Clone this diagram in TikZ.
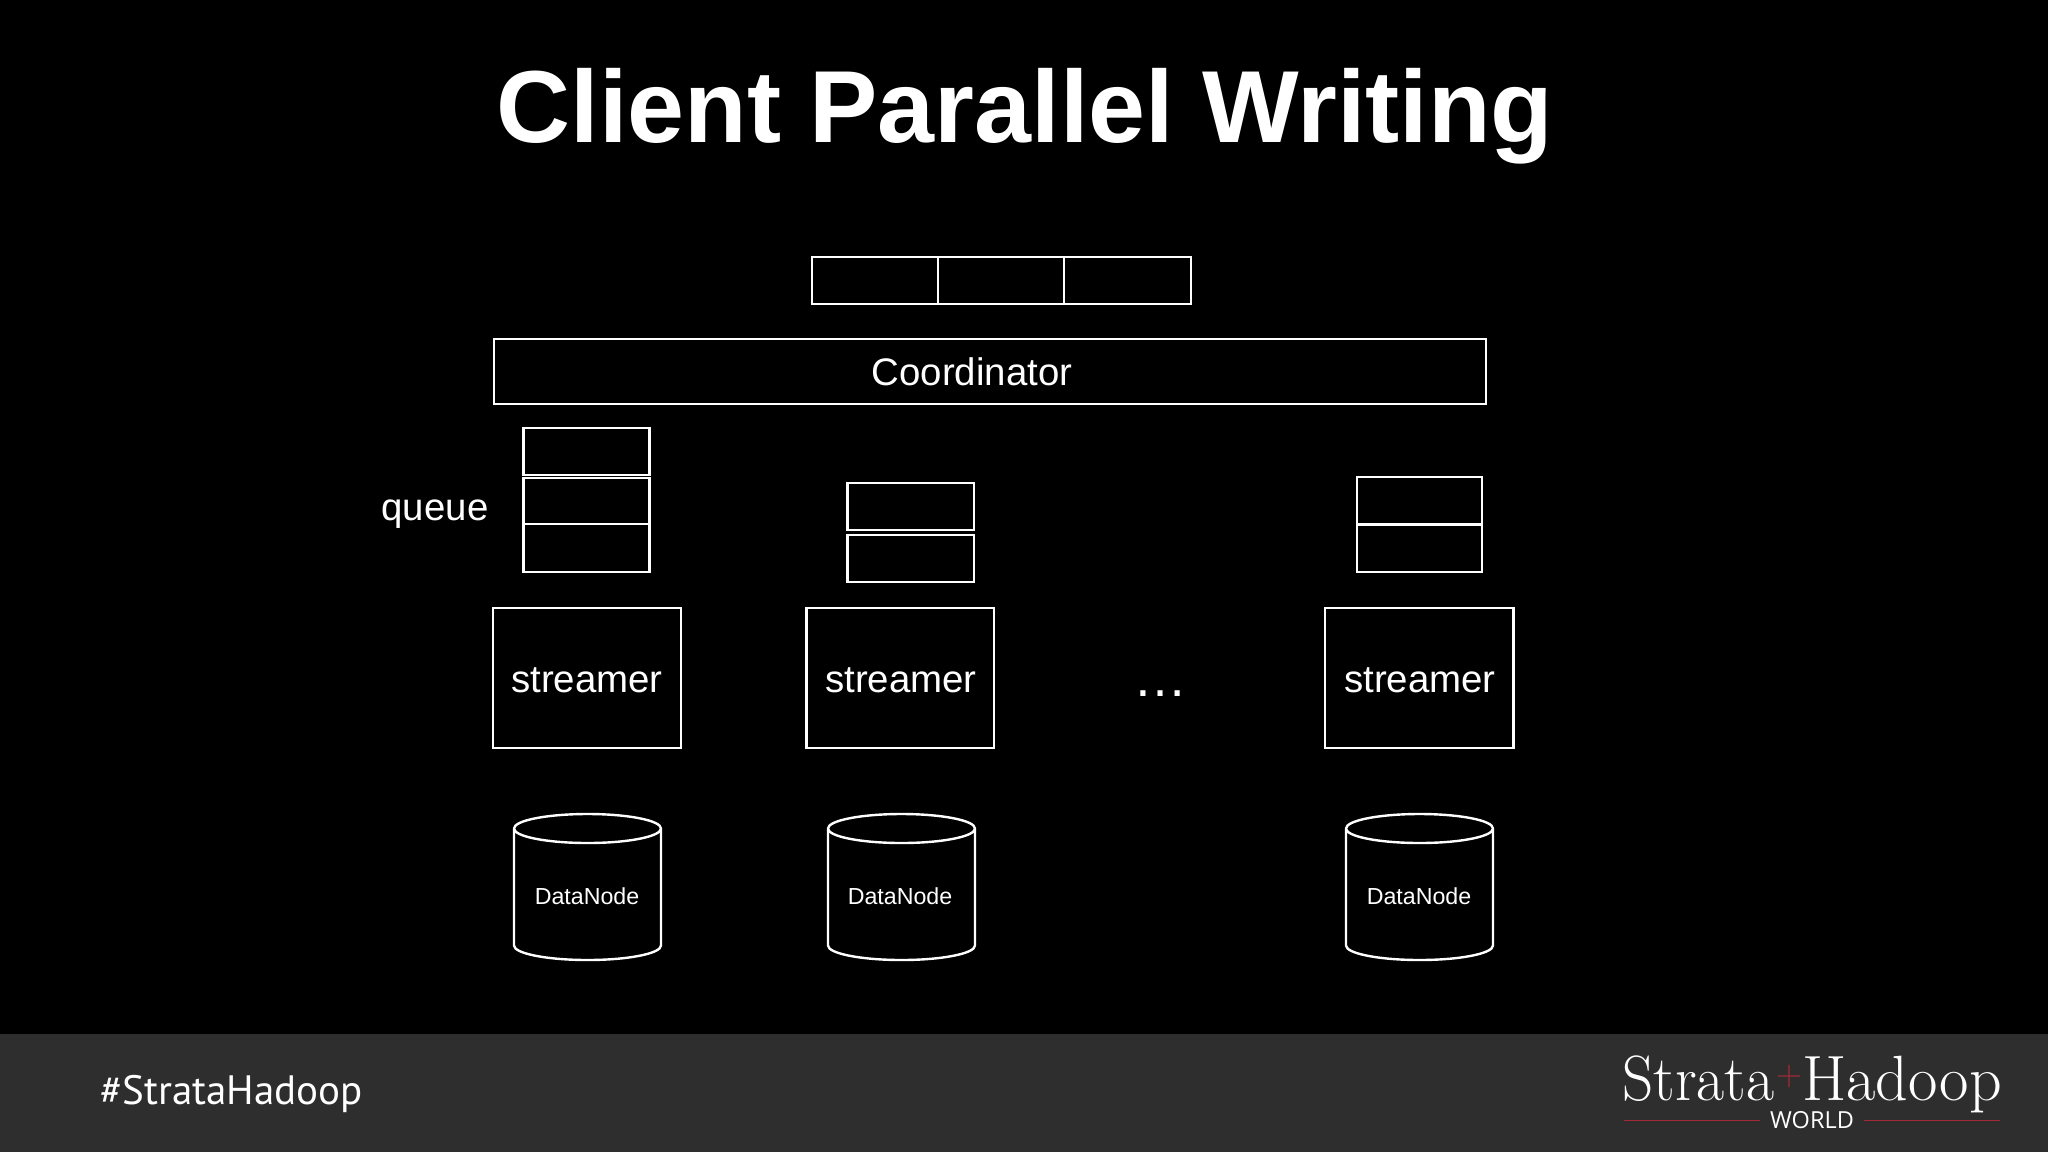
\documentclass[tikz,border=0pt]{standalone}
\usepackage{fontspec}
\setsansfont{Liberation Sans}
\newfontfamily\tagfont{PT Sans}
\newfontfamily\worldfont{Open Sans}
\usetikzlibrary{fit}
\definecolor{barcol}{HTML}{2E2E2E}
\definecolor{redcol}{HTML}{A32A35}
\newcommand{\fsz}[1]{\fontsize{#1pt}{#1pt}\selectfont}
\newcommand{\cylshape}[1]{%
  \draw[cyl] (#1.north west) ++(0,-14.5pt) arc[start angle=180,end angle=-180,x radius=73.5pt,y radius=14.5pt]
    -- ++(0,-117pt) arc[start angle=180,end angle=360,x radius=73.5pt,y radius=14.5pt]
    -- ++(0,117pt);
}
\tikzset{
  bx/.style={draw=white,line width=2.4pt,inner sep=0pt,outer sep=0pt,text=white,font=\sffamily\fsz{38.4}},
  txt/.style={text=white,inner sep=0pt,outer sep=0pt,font=\sffamily\fsz{38.4}},
  dn/.style={inner sep=0pt,outer sep=0pt},
  dntxt/.style={text=white,inner sep=0pt,outer sep=0pt,font=\sffamily\fsz{23.2}},
  cyl/.style={draw=white,line width=2.4pt,line join=round},
  redline/.style={draw=redcol,line width=1.8pt}
}
\begin{document}
\begin{tikzpicture}[x=1pt,y=-1pt]
\useasboundingbox (0,0) rectangle (2048,1152);
\fill[black] (0,0) rectangle (2048,1152);
\fill[barcol] (0,1034) rectangle (2048,1152);
\node[text=white,inner sep=0pt,anchor=base,font=\sffamily\bfseries\fsz{102.4}] (title) at (1025,142) {Client Parallel Writing};
% top row
\node[bx,fit={(812,257)(938,304)}] (t1) {};
\node[bx,fit={(938,257)(1064,304)}] (t2) {};
\node[bx,fit={(1064,257)(1191,304)}] (t3) {};
\node[bx,fit={(494,339)(1486,404)}] (coord) {};
\node[txt] (coordt) at (972,372) {Coordinator};
% queues
\node[txt,anchor=base] (q) at (435,520) {queue};
\node[bx,fit={(523.5,428)(649.5,475)}] (a1) {};
\node[bx,fit={(523.5,478)(649.5,524)}] (a2) {};
\node[bx,fit={(523.5,524)(649.5,572)}] (a3) {};
\node[bx,fit={(847.5,483)(974,530)}] (b1) {};
\node[bx,fit={(847.5,535)(974,582)}] (b2) {};
\node[bx,fit={(1357,477)(1482,524)}] (c1) {};
\node[bx,fit={(1357,525)(1482,572)}] (c2) {};
% streamers
\node[bx,fit={(493,608)(681,748)}] (s1) {};
\node[bx,fit={(806.5,608)(994,748)}] (s2) {};
\node[bx,fit={(1325,608)(1513.5,748)}] (s3) {};
\node[txt,anchor=base] (s1t) at (587,692) {streamer};
\node[txt,anchor=base] (s2t) at (901,692) {streamer};
\node[txt,anchor=base] (s3t) at (1420,692) {streamer};
\node[txt,anchor=base,font=\sffamily\fsz{54}] (dots) at (1160,696) {…};
% datanodes
\node[dn,fit={(514,814)(661,960)}] (d1) {};
\node[dn,fit={(828,814)(975,960)}] (d2) {};
\node[dn,fit={(1346,814)(1493,960)}] (d3) {};
\cylshape{d1}
\cylshape{d2}
\cylshape{d3}
\node[dntxt] (d1t) at (587,896) {DataNode};
\node[dntxt] (d2t) at (900,896) {DataNode};
\node[dntxt] (d3t) at (1419,896) {DataNode};
% footer
\node[text=white,inner sep=0pt,anchor=base west,font=\tagfont\fsz{41}] (tag) at (100,1104) {\#StrataHadoop};
\node[text=white,inner sep=0pt,anchor=base west,xscale=.955,font=\rmfamily\fsz{64}] (lg1) at (1622,1100) {Strata};
\node[text=redcol,inner sep=0pt,font=\rmfamily\fsz{36}] (lgp) at (1789,1077) {+};
\node[text=white,inner sep=0pt,anchor=base west,font=\rmfamily\fsz{64}] (lg2) at (1802,1100) {Hadoop};
\node[text=white,inner sep=0pt,font=\worldfont\fsz{23.5},anchor=base] (world) at (1812,1128) {WORLD};
\coordinate (r1) at (1624,1120.5);
\coordinate (r2) at (1760,1120.5);
\coordinate (r3) at (1864,1120.5);
\coordinate (r4) at (2000,1120.5);
\draw[redline] (r1) -- (r2);
\draw[redline] (r3) -- (r4);
\end{tikzpicture}
\end{document}
